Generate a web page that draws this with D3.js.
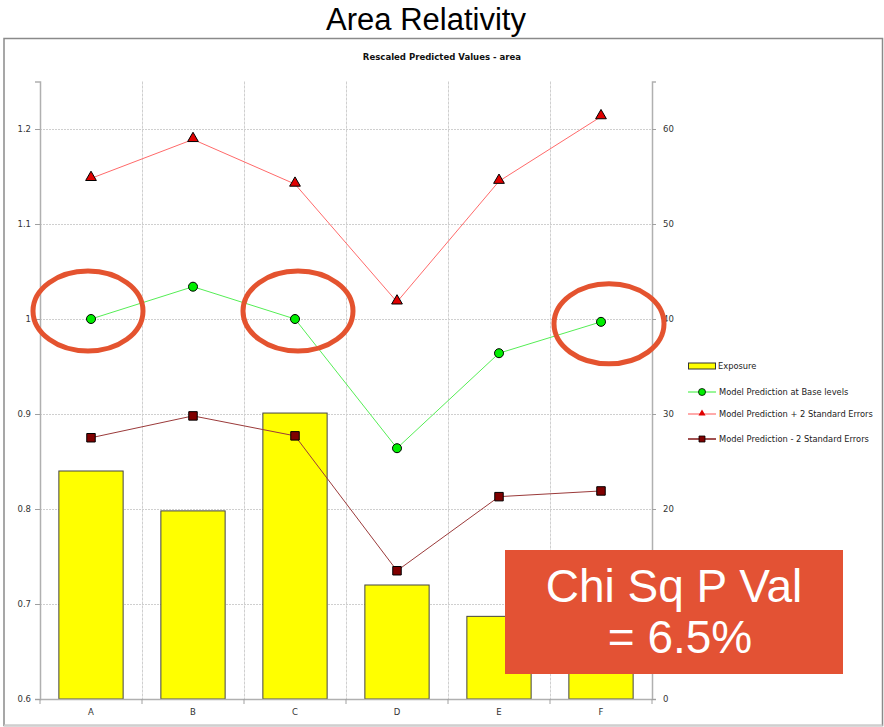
<!DOCTYPE html>
<html>
<head>
<meta charset="utf-8">
<script src="https://cdn.jsdelivr.net/npm/d3@7/dist/d3.min.js"></script>
<style>
  html, body { margin: 0; padding: 0; background: #fff; }
  svg { display: block; }
</style>
</head>
<body>
<svg id="chart" width="884" height="727"></svg>
<script>
// ---- data ----
const categories = ["A", "B", "C", "D", "E", "F"];
const exposure = [24.0, 19.8, 30.1, 12.0, 8.7, 12.0];
const basePred = [1.000, 1.034, 1.000, 0.864, 0.964, 0.997];
const plus2SE  = [1.148, 1.189, 1.142, 1.018, 1.145, 1.213];
const minus2SE = [0.875, 0.898, 0.877, 0.735, 0.813, 0.819];
const leftTicks = [0.6, 0.7, 0.8, 0.9, 1.0, 1.1, 1.2];
const rightTicks = [0, 10, 20, 30, 40, 50, 60];
const legendLabels = ["Exposure", "Model Prediction at Base levels", "Model Prediction + 2 Standard Errors", "Model Prediction - 2 Standard Errors"];
const highlighted = ["A", "C", "F"];

const svg = d3.select("#chart");
const W = 884, H = 727;
const plot = { left: 40, right: 652, top: 81.5, bottom: 699 };

const x = d3.scaleBand().domain(categories).range([plot.left, plot.right]).padding(0);
const yL = d3.scaleLinear().domain([0.6, 1.25]).range([plot.bottom, plot.top]);
const yR = d3.scaleLinear().domain([0, 65]).range([plot.bottom, plot.top]);
const bw = x.bandwidth();
const cx = c => x(c) + bw / 2;

// Title
svg.append("text").attr("x", 426).attr("y", 30).attr("text-anchor", "middle")
  .attr("font-family", "Liberation Sans, Arial, sans-serif").attr("font-size", 31)
  .attr("fill", "#000").text("Area Relativity");

// Frame
svg.append("rect").attr("x", 4).attr("y", 38.5).attr("width", 878.5).attr("height", 687)
  .attr("fill", "none").attr("stroke", "#8a8a8a").attr("stroke-width", 1.5);
svg.append("line").attr("x1", 4).attr("x2", 882.5).attr("y1", 725.5).attr("y2", 725.5)
  .attr("stroke", "#cfcfcf").attr("stroke-width", 2);

// Subtitle
svg.append("text").attr("x", 442).attr("y", 60).attr("text-anchor", "middle")
  .attr("font-family", "Liberation Sans Narrow, DejaVu Sans Condensed, Arial, sans-serif")
  .attr("font-weight", "bold").attr("font-size", 9.5).attr("fill", "#111")
  .text("Rescaled Predicted Values - area");

// Gridlines
const g = svg.append("g");
g.selectAll(".hgrid").data(leftTicks.filter(t => t > 0.6)).join("line")
  .attr("x1", plot.left).attr("x2", plot.right)
  .attr("y1", d => Math.round(yL(d)) + 0.5).attr("y2", d => Math.round(yL(d)) + 0.5)
  .attr("stroke", "#cfcfcf").attr("stroke-width", 1).attr("stroke-dasharray", "2,1");
g.selectAll(".vgrid").data(categories.slice(1)).join("line")
  .attr("x1", d => Math.round(x(d)) + 0.5).attr("x2", d => Math.round(x(d)) + 0.5)
  .attr("y1", plot.top).attr("y2", plot.bottom)
  .attr("stroke", "#cfcfcf").attr("stroke-width", 1).attr("stroke-dasharray", "3,1");

// Bars
g.selectAll(".bar").data(categories).join("rect")
  .attr("x", (d) => x(d) + bw * 0.185).attr("width", bw * 0.63)
  .attr("y", (d, i) => yR(exposure[i])).attr("height", (d, i) => plot.bottom - yR(exposure[i]))
  .attr("fill", "#ffff00").attr("stroke", "#444").attr("stroke-width", 1);

// Axes
const axL = svg.append("g").attr("transform", `translate(${plot.left},0)`)
  .call(d3.axisLeft(yL).tickValues(leftTicks).tickSize(5).tickPadding(4).tickFormat(d => d === 1 ? "1" : d3.format(".1f")(d)));
const axR = svg.append("g").attr("transform", `translate(${plot.right},0)`)
  .call(d3.axisRight(yR).tickValues(rightTicks).tickSize(4).tickPadding(7).tickFormat(d3.format("d")));
const axB = svg.append("g").attr("transform", `translate(0,${plot.bottom})`)
  .call(d3.axisBottom(x).tickSize(0).tickPadding(10));
[axL, axR, axB].forEach(a => {
  a.select(".domain").attr("stroke", "#b0b0b0").attr("stroke-width", 1.5);
  a.selectAll(".tick line").attr("stroke", "#a0a0a0");
  a.selectAll("text").attr("font-family", "DejaVu Sans, sans-serif").attr("font-size", 8.5).attr("fill", "#333");
});
axB.select(".domain").attr("d", `M${plot.left},0.5H${plot.right}`);
// bottom boundary ticks
svg.append("g").selectAll("line").data(categories.concat(["_end"])).join("line")
  .attr("x1", (d, i) => i < categories.length ? x(d) : plot.right)
  .attr("x2", (d, i) => i < categories.length ? x(d) : plot.right)
  .attr("y1", plot.bottom).attr("y2", plot.bottom + 5).attr("stroke", "#a0a0a0");

// Lines
const line = arr => d3.line().x((d, i) => cx(categories[i])).y(d => yL(d))(arr);
svg.append("path").attr("d", line(plus2SE)).attr("fill", "none").attr("stroke", "#ff6a6a").attr("stroke-width", 1);
svg.append("path").attr("d", line(basePred)).attr("fill", "none").attr("stroke", "#55ee55").attr("stroke-width", 1);
svg.append("path").attr("d", line(minus2SE)).attr("fill", "none").attr("stroke", "#9b3a3a").attr("stroke-width", 1);

const tri = d3.symbol().type(d3.symbolTriangle).size(50);
const sq = d3.symbol().type(d3.symbolSquare).size(72);
svg.append("g").selectAll("path").data(plus2SE).join("path")
  .attr("d", tri).attr("transform", (d, i) => `translate(${cx(categories[i])},${yL(d) - 1})`)
  .attr("fill", "#e00000").attr("stroke", "#000").attr("stroke-width", 1);
svg.append("g").selectAll("circle").data(basePred).join("circle")
  .attr("cx", (d, i) => cx(categories[i])).attr("cy", d => yL(d)).attr("r", 4.5)
  .attr("fill", "#00ee00").attr("stroke", "#000").attr("stroke-width", 1);
svg.append("g").selectAll("path").data(minus2SE).join("path")
  .attr("d", sq).attr("transform", (d, i) => `translate(${cx(categories[i])},${yL(d)})`)
  .attr("fill", "#800000").attr("stroke", "#000").attr("stroke-width", 1);

// Legend
const lg = svg.append("g").attr("font-family", "DejaVu Sans, sans-serif").attr("font-size", 8.3).attr("fill", "#222");
const ly = [366, 392, 414, 439];
lg.append("rect").attr("x", 688.5).attr("y", ly[0] - 3).attr("width", 27).attr("height", 6)
  .attr("fill", "#ffff00").attr("stroke", "#333").attr("stroke-width", 1);
lg.append("line").attr("x1", 688).attr("x2", 716).attr("y1", ly[1]).attr("y2", ly[1]).attr("stroke", "#33ee33").attr("stroke-width", 1);
lg.append("circle").attr("cx", 702).attr("cy", ly[1]).attr("r", 3.5).attr("fill", "#00ee00").attr("stroke", "#000").attr("stroke-width", 0.8);
lg.append("line").attr("x1", 688).attr("x2", 716).attr("y1", ly[2]).attr("y2", ly[2]).attr("stroke", "#ffaaaa").attr("stroke-width", 2);
lg.append("path").attr("d", d3.symbol().type(d3.symbolTriangle).size(22)).attr("transform", `translate(702,${ly[2] - 0.5})`).attr("fill", "#e00000");
lg.append("line").attr("x1", 688).attr("x2", 716).attr("y1", ly[3]).attr("y2", ly[3]).attr("stroke", "#a05050").attr("stroke-width", 2);
lg.append("path").attr("d", d3.symbol().type(d3.symbolSquare).size(36)).attr("transform", `translate(702,${ly[3]})`).attr("fill", "#800000").attr("stroke", "#000").attr("stroke-width", 0.8);
lg.selectAll("text").data(legendLabels).join("text")
  .attr("x", (d, i) => i === 0 ? 718 : 719).attr("y", (d, i) => ly[i] + 3).text(d => d);

// Highlight ellipses
const ellipseIdx = highlighted.map(h => categories.indexOf(h));
svg.append("g").selectAll("ellipse").data(ellipseIdx).join("ellipse")
  .attr("cx", (d, i) => cx(categories[d]) + [-3, 3, 8][i])
  .attr("cy", d => yL(basePred[d]) - [8, 8, -2][ellipseIdx.indexOf(d)])
  .attr("rx", 55).attr("ry", 40)
  .attr("fill", "none").attr("stroke", "#e4532f").attr("stroke-width", 5);

// Chi sq box
svg.append("rect").attr("x", 505).attr("y", 550).attr("width", 338).attr("height", 124).attr("fill", "#e35234");
const bt = svg.append("g").attr("font-family", "Liberation Sans, Arial, sans-serif").attr("font-size", 46)
  .attr("fill", "#fff").attr("text-anchor", "middle");
bt.append("text").attr("x", 674).attr("y", 602).text("Chi Sq P Val");
bt.append("text").attr("x", 680).attr("y", 653).text("= 6.5%");
</script>
</body>
</html>
